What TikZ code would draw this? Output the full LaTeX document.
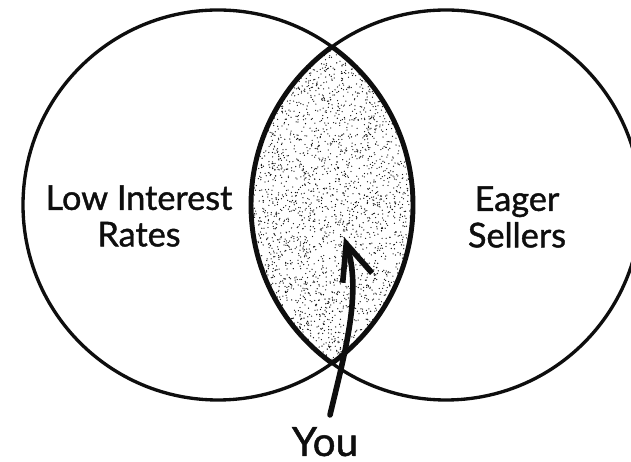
\documentclass[tikz,border=0pt]{standalone}
\usepackage{fontspec}
\setmainfont{Lato}
\newfontfamily\tagfont[FakeBold=1.2]{Lato}
\usetikzlibrary{arrows.meta}
\definecolor{ink}{RGB}{14,14,14}
\tikzset{
  ring/.style={draw=ink,line width=1.9pt},
  lensrim/.style={draw=ink,line width=2.8pt},
  tag/.style={text=ink,align=center,font=\tagfont\fontsize{19.5}{20.8}\selectfont},
  pointer/.style={draw=ink,line width=3.2pt,line cap=round,
    -{Straight Barb[length=0.72cm,width=0.62cm,line width=3.2pt]}}
}

\begin{document}
\begin{tikzpicture}[x=0.02cm,y=0.02cm]

    \useasboundingbox (0,0) rectangle (631,462);

    % 交集的点状纹理

    \pgfmathsetseed{7}
    \begin{scope}

      \clip (218,257) circle (195);

      \clip (446,257) circle (195);

      \foreach \i in {1,...,3400}{

        \fill[ink] ({250+166*rnd},{97+320*rnd}) circle (0.65);

      }

    \end{scope}

    % 两个圆

    \draw[ring] (218,257) circle (195);

    \draw[ring] (446,257) circle (195);

    % 交集边线加粗

    \begin{scope}

      \clip (218,257) circle (195);

      \draw[lensrim] (446,257) circle (195);

    \end{scope}

    \begin{scope}

      \clip (446,257) circle (195);

      \draw[lensrim] (218,257) circle (195);

    \end{scope}

    % 文字

    \node[tag] (rates) at (139,246) {Low Interest\\Rates};

    \node[tag] (sellers) at (517,245) {Eager\\Sellers};

    \node[tag,font=\tagfont\fontsize{23}{25}\selectfont,anchor=base,inner sep=1pt] (you) at (325,6) {You};

    % 箭头

    \coordinate (tip) at (344,225);

    \draw[pointer] ([shift={(5,10)}]you.north) .. controls (345,110) and (362,170) .. (tip);

  \end{tikzpicture}
\end{document}
